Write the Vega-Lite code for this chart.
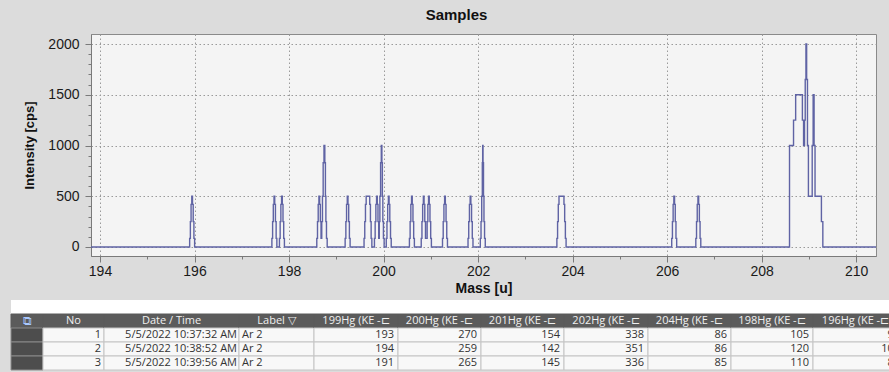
{
  "$schema": "https://vega.github.io/schema/vega-lite/v6.json",
  "background": "#dcdcdc",
  "padding": {"left": 10, "top": 7, "right": 0, "bottom": 2},
  "spacing": 4,
  "config": {
    "view": {"stroke": null, "fill": "#ffffff"},
    "font": "Liberation Sans"
  },
  "datasets": {
    "spectrum": [
      {"mass": 193.81, "cps": 0},
      {"mass": 195.89, "cps": 0}, {"mass": 195.905, "cps": 85}, {"mass": 195.92, "cps": 250}, {"mass": 195.935, "cps": 420}, {"mass": 195.95, "cps": 500}, {"mass": 195.965, "cps": 420}, {"mass": 195.98, "cps": 250}, {"mass": 195.995, "cps": 85}, {"mass": 196.01, "cps": 0},
      {"mass": 197.63, "cps": 0}, {"mass": 197.645, "cps": 85}, {"mass": 197.66, "cps": 250}, {"mass": 197.675, "cps": 420}, {"mass": 197.69, "cps": 500}, {"mass": 197.705, "cps": 420}, {"mass": 197.72, "cps": 250}, {"mass": 197.735, "cps": 85}, {"mass": 197.75, "cps": 0},
      {"mass": 197.79, "cps": 0}, {"mass": 197.805, "cps": 85}, {"mass": 197.82, "cps": 250}, {"mass": 197.835, "cps": 420}, {"mass": 197.85, "cps": 500}, {"mass": 197.865, "cps": 420}, {"mass": 197.88, "cps": 250}, {"mass": 197.895, "cps": 85}, {"mass": 197.91, "cps": 0},
      {"mass": 198.58, "cps": 0}, {"mass": 198.595, "cps": 85}, {"mass": 198.61, "cps": 250}, {"mass": 198.625, "cps": 420}, {"mass": 198.64, "cps": 500}, {"mass": 198.655, "cps": 420}, {"mass": 198.67, "cps": 250}, {"mass": 198.685, "cps": 85}, {"mass": 198.7, "cps": 250}, {"mass": 198.715, "cps": 500}, {"mass": 198.73, "cps": 830}, {"mass": 198.75, "cps": 1000}, {"mass": 198.765, "cps": 830}, {"mass": 198.775, "cps": 500}, {"mass": 198.785, "cps": 250}, {"mass": 198.8, "cps": 85}, {"mass": 198.815, "cps": 0},
      {"mass": 199.18, "cps": 0}, {"mass": 199.195, "cps": 85}, {"mass": 199.21, "cps": 250}, {"mass": 199.225, "cps": 420}, {"mass": 199.24, "cps": 500}, {"mass": 199.255, "cps": 420}, {"mass": 199.27, "cps": 250}, {"mass": 199.285, "cps": 85}, {"mass": 199.3, "cps": 0},
      {"mass": 199.58, "cps": 0}, {"mass": 199.595, "cps": 85}, {"mass": 199.61, "cps": 250}, {"mass": 199.625, "cps": 420}, {"mass": 199.64, "cps": 500}, {"mass": 199.67, "cps": 500}, {"mass": 199.7, "cps": 500}, {"mass": 199.715, "cps": 420}, {"mass": 199.73, "cps": 250}, {"mass": 199.745, "cps": 85}, {"mass": 199.76, "cps": 0},
      {"mass": 199.8, "cps": 0}, {"mass": 199.815, "cps": 85}, {"mass": 199.83, "cps": 250}, {"mass": 199.845, "cps": 420}, {"mass": 199.86, "cps": 500}, {"mass": 199.875, "cps": 420}, {"mass": 199.89, "cps": 250}, {"mass": 199.905, "cps": 85}, {"mass": 199.915, "cps": 250}, {"mass": 199.93, "cps": 500}, {"mass": 199.945, "cps": 830}, {"mass": 199.96, "cps": 1000}, {"mass": 199.97, "cps": 830}, {"mass": 199.98, "cps": 500}, {"mass": 199.99, "cps": 250}, {"mass": 200.005, "cps": 85}, {"mass": 200.02, "cps": 0},
      {"mass": 200.05, "cps": 0}, {"mass": 200.065, "cps": 85}, {"mass": 200.08, "cps": 250}, {"mass": 200.095, "cps": 420}, {"mass": 200.11, "cps": 500}, {"mass": 200.125, "cps": 420}, {"mass": 200.14, "cps": 250}, {"mass": 200.155, "cps": 85}, {"mass": 200.17, "cps": 0},
      {"mass": 200.54, "cps": 0}, {"mass": 200.555, "cps": 85}, {"mass": 200.57, "cps": 250}, {"mass": 200.585, "cps": 420}, {"mass": 200.6, "cps": 500}, {"mass": 200.615, "cps": 420}, {"mass": 200.63, "cps": 250}, {"mass": 200.645, "cps": 85}, {"mass": 200.66, "cps": 0},
      {"mass": 200.79, "cps": 0}, {"mass": 200.805, "cps": 85}, {"mass": 200.82, "cps": 250}, {"mass": 200.835, "cps": 420}, {"mass": 200.85, "cps": 500}, {"mass": 200.865, "cps": 420}, {"mass": 200.88, "cps": 250}, {"mass": 200.895, "cps": 85}, {"mass": 200.915, "cps": 85}, {"mass": 200.93, "cps": 250}, {"mass": 200.945, "cps": 420}, {"mass": 200.96, "cps": 500}, {"mass": 200.975, "cps": 420}, {"mass": 200.99, "cps": 250}, {"mass": 201.005, "cps": 85}, {"mass": 201.02, "cps": 0},
      {"mass": 201.24, "cps": 0}, {"mass": 201.255, "cps": 85}, {"mass": 201.27, "cps": 250}, {"mass": 201.285, "cps": 420}, {"mass": 201.3, "cps": 500}, {"mass": 201.315, "cps": 420}, {"mass": 201.33, "cps": 250}, {"mass": 201.345, "cps": 85}, {"mass": 201.36, "cps": 0},
      {"mass": 201.78, "cps": 0}, {"mass": 201.795, "cps": 85}, {"mass": 201.81, "cps": 250}, {"mass": 201.825, "cps": 420}, {"mass": 201.84, "cps": 500}, {"mass": 201.855, "cps": 420}, {"mass": 201.87, "cps": 250}, {"mass": 201.885, "cps": 85}, {"mass": 201.9, "cps": 0},
      {"mass": 202.04, "cps": 0}, {"mass": 202.055, "cps": 85}, {"mass": 202.07, "cps": 250}, {"mass": 202.085, "cps": 500}, {"mass": 202.095, "cps": 830}, {"mass": 202.1, "cps": 1000}, {"mass": 202.11, "cps": 830}, {"mass": 202.12, "cps": 500}, {"mass": 202.13, "cps": 250}, {"mass": 202.145, "cps": 85}, {"mass": 202.16, "cps": 0},
      {"mass": 203.66, "cps": 0}, {"mass": 203.675, "cps": 85}, {"mass": 203.69, "cps": 250}, {"mass": 203.705, "cps": 420}, {"mass": 203.72, "cps": 500}, {"mass": 203.765, "cps": 500}, {"mass": 203.81, "cps": 500}, {"mass": 203.825, "cps": 420}, {"mass": 203.84, "cps": 250}, {"mass": 203.855, "cps": 85}, {"mass": 203.87, "cps": 0},
      {"mass": 206.09, "cps": 0}, {"mass": 206.105, "cps": 85}, {"mass": 206.12, "cps": 250}, {"mass": 206.135, "cps": 420}, {"mass": 206.15, "cps": 500}, {"mass": 206.165, "cps": 420}, {"mass": 206.18, "cps": 250}, {"mass": 206.195, "cps": 85}, {"mass": 206.21, "cps": 0},
      {"mass": 206.6, "cps": 0}, {"mass": 206.615, "cps": 85}, {"mass": 206.63, "cps": 250}, {"mass": 206.645, "cps": 420}, {"mass": 206.66, "cps": 500}, {"mass": 206.675, "cps": 420}, {"mass": 206.69, "cps": 250}, {"mass": 206.705, "cps": 85}, {"mass": 206.72, "cps": 0},
      {"mass": 208.58, "cps": 0}, {"mass": 208.6, "cps": 1000}, {"mass": 208.65, "cps": 1000}, {"mass": 208.7, "cps": 1250}, {"mass": 208.74, "cps": 1500}, {"mass": 208.8, "cps": 1500}, {"mass": 208.85, "cps": 1500}, {"mass": 208.875, "cps": 1250}, {"mass": 208.9, "cps": 1000}, {"mass": 208.915, "cps": 1250}, {"mass": 208.93, "cps": 1650}, {"mass": 208.945, "cps": 2000}, {"mass": 208.96, "cps": 1650}, {"mass": 208.98, "cps": 1000}, {"mass": 209.0, "cps": 500}, {"mass": 209.03, "cps": 500}, {"mass": 209.06, "cps": 500}, {"mass": 209.08, "cps": 1000}, {"mass": 209.1, "cps": 1500}, {"mass": 209.12, "cps": 1000}, {"mass": 209.14, "cps": 500}, {"mass": 209.2, "cps": 500}, {"mass": 209.25, "cps": 500}, {"mass": 209.28, "cps": 250}, {"mass": 209.31, "cps": 0},
      {"mass": 210.42, "cps": 0}
    ],
    "cells": [
      {"col": "icon", "row": "hdr", "text": "⧉"}, {"col": "icon", "row": "1", "text": ""}, {"col": "icon", "row": "2", "text": ""}, {"col": "icon", "row": "3", "text": ""},
      {"col": "No", "row": "hdr", "text": "No"}, {"col": "No", "row": "1", "text": "1"}, {"col": "No", "row": "2", "text": "2"}, {"col": "No", "row": "3", "text": "3"},
      {"col": "Date / Time", "row": "hdr", "text": "Date / Time"}, {"col": "Date / Time", "row": "1", "text": "5/5/2022  10:37:32 AM"}, {"col": "Date / Time", "row": "2", "text": "5/5/2022  10:38:52 AM"}, {"col": "Date / Time", "row": "3", "text": "5/5/2022  10:39:56 AM"},
      {"col": "Label", "row": "hdr", "text": "Label      ▽"}, {"col": "Label", "row": "1", "text": "Ar 2"}, {"col": "Label", "row": "2", "text": "Ar 2"}, {"col": "Label", "row": "3", "text": "Ar 2"},
      {"col": "199Hg", "row": "hdr", "text": "199Hg (KE  -⊏"}, {"col": "199Hg", "row": "1", "text": "193"}, {"col": "199Hg", "row": "2", "text": "194"}, {"col": "199Hg", "row": "3", "text": "191"},
      {"col": "200Hg", "row": "hdr", "text": "200Hg (KE  -⊏"}, {"col": "200Hg", "row": "1", "text": "270"}, {"col": "200Hg", "row": "2", "text": "259"}, {"col": "200Hg", "row": "3", "text": "265"},
      {"col": "201Hg", "row": "hdr", "text": "201Hg (KE  -⊏"}, {"col": "201Hg", "row": "1", "text": "154"}, {"col": "201Hg", "row": "2", "text": "142"}, {"col": "201Hg", "row": "3", "text": "145"},
      {"col": "202Hg", "row": "hdr", "text": "202Hg (KE  -⊏"}, {"col": "202Hg", "row": "1", "text": "338"}, {"col": "202Hg", "row": "2", "text": "351"}, {"col": "202Hg", "row": "3", "text": "336"},
      {"col": "204Hg", "row": "hdr", "text": "204Hg (KE  -⊏"}, {"col": "204Hg", "row": "1", "text": "86"}, {"col": "204Hg", "row": "2", "text": "86"}, {"col": "204Hg", "row": "3", "text": "85"},
      {"col": "198Hg", "row": "hdr", "text": "198Hg (KE  -⊏"}, {"col": "198Hg", "row": "1", "text": "105"}, {"col": "198Hg", "row": "2", "text": "120"}, {"col": "198Hg", "row": "3", "text": "110"},
      {"col": "196Hg", "row": "hdr", "text": "196Hg (KE  -⊏"}, {"col": "196Hg", "row": "1", "text": "97"}, {"col": "196Hg", "row": "2", "text": "103"}, {"col": "196Hg", "row": "3", "text": "88"}
    ]
  },
  "vconcat": [
    {
      "bounds": "flush",
      "spacing": 0,
      "hconcat": [
        {
          "width": 80,
          "height": 222,
          "view": {"fill": null, "stroke": null},
          "data": {"values": [{}]},
          "mark": {"type": "text"},
          "encoding": {"text": {"value": ""}}
        },
        {
          "width": 785,
          "height": 222,
          "title": {"text": "Samples", "fontSize": 15, "fontWeight": "bold", "color": "#111111", "anchor": "middle", "frame": "group", "dx": -27, "offset": 11},
          "view": {"fill": "#f4f4f4", "stroke": "#8a8a8a"},
          "data": {"name": "spectrum"},
          "mark": {"type": "line", "interpolate": "step", "color": "#5f63a4", "strokeWidth": 1.4, "clip": true},
          "encoding": {
            "x": {
              "field": "mass", "type": "quantitative",
              "scale": {"domain": [193.81, 210.42], "nice": false, "zero": false},
              "axis": {
                "title": "Mass [u]", "titleFontSize": 14, "titleFontWeight": "bold", "titleColor": "#111111", "titlePadding": 3,
                "values": [194, 194.5, 195, 195.5, 196, 196.5, 197, 197.5, 198, 198.5, 199, 199.5, 200, 200.5, 201, 201.5, 202, 202.5, 203, 203.5, 204, 204.5, 205, 205.5, 206, 206.5, 207, 207.5, 208, 208.5, 209, 209.5, 210],
                "format": "d",
                "labelExpr": "datum.value % 2 === 0 ? datum.label : ''",
                "labelFontSize": 14, "labelColor": "#1a1a1a", "labelPadding": 2, "labelFlush": false, "labelOverlap": false,
                "domainColor": "#7a7a7a", "tickColor": "#7a7a7a",
                "tickSize": {"condition": {"test": "datum.value % 2 === 0", "value": 6}, "value": 3},
                "grid": true, "gridColor": "#9a9a9a", "gridDash": [1.5, 2.5],
                "gridOpacity": {"condition": {"test": "datum.value % 2 === 0", "value": 1}, "value": 0}
              }
            },
            "y": {
              "field": "cps", "type": "quantitative",
              "scale": {"domain": [-89, 2099], "nice": false, "zero": false},
              "axis": {
                "title": ["", "Intensity [cps]"], "titleFontSize": 13, "titleFontWeight": "bold", "titleColor": "#111111", "titleLineHeight": 12, "titlePadding": 10,
                "minExtent": 45, "maxExtent": 45,
                "values": [0, 100, 200, 300, 400, 500, 600, 700, 800, 900, 1000, 1100, 1200, 1300, 1400, 1500, 1600, 1700, 1800, 1900, 2000],
                "format": "d",
                "labelExpr": "datum.value % 500 === 0 ? datum.label : ''",
                "labelFontSize": 14, "labelColor": "#1a1a1a", "labelPadding": 6, "labelOverlap": false,
                "domainColor": "#7a7a7a", "tickColor": "#7a7a7a",
                "tickSize": {"condition": {"test": "datum.value % 500 === 0", "value": 6}, "value": 3},
                "grid": true, "gridColor": "#9a9a9a", "gridDash": [1.5, 2.5],
                "gridOpacity": {"condition": {"test": "datum.value % 500 === 0", "value": 1}, "value": 0}
              }
            }
          }
        }
      ]
    },
    {
      "data": {"name": "cells"},
      "spacing": 0,
      "bounds": "flush",
      "hconcat": [
        {
          "width": 32, "height": 70,
          "transform": [{"filter": "datum.col === 'icon'"}],
          "encoding": {
            "x": {"field": "col", "type": "nominal", "scale": {"type": "band", "paddingInner": 0, "paddingOuter": 0}, "axis": null},
            "y": {"field": "row", "type": "nominal", "scale": {"type": "band", "domain": ["gap", "hdr", "1", "2", "3"], "paddingInner": 0, "paddingOuter": 0}, "axis": null}
          },
          "layer": [
            {"mark": {"type": "rect", "strokeWidth": 1}, "encoding": {"fill": {"condition": {"test": "datum.row === 'hdr'", "value": "#5b5b5b"}, "value": "#4d4d4d"}, "stroke": {"condition": {"test": "datum.row === 'hdr'", "value": "#5b5b5b"}, "value": "#8a8a8a"}}},
            {"transform": [{"filter": "datum.row === 'hdr'"}], "mark": {"type": "text", "font": "DejaVu Sans", "fontSize": 12, "color": "#a8c8ff"}, "encoding": {"text": {"field": "text"}}}
          ]
        },
        {
          "width": 61, "height": 70,
          "transform": [{"filter": "datum.col === 'No'"}],
          "encoding": {
            "x": {"field": "col", "type": "nominal", "scale": {"type": "band", "paddingInner": 0, "paddingOuter": 0}, "axis": null},
            "y": {"field": "row", "type": "nominal", "scale": {"type": "band", "domain": ["gap", "hdr", "1", "2", "3"], "paddingInner": 0, "paddingOuter": 0}, "axis": null}
          },
          "layer": [
            {"mark": {"type": "rect", "strokeWidth": 1}, "encoding": {"fill": {"condition": {"test": "datum.row === 'hdr'", "value": "#5b5b5b"}, "value": "#f8f8f8"}, "stroke": {"condition": {"test": "datum.row === 'hdr'", "value": "#5b5b5b"}, "value": "#c4c4c4"}}},
            {"transform": [{"filter": "datum.row === 'hdr'"}], "mark": {"type": "text", "font": "Open Sans", "fontSize": 11, "color": "#f0f0f0"}, "encoding": {"text": {"field": "text"}}},
            {"transform": [{"filter": "datum.row !== 'hdr'"}], "mark": {"type": "text", "font": "Open Sans", "fontSize": 11, "color": "#333333", "align": "right", "dx": -3}, "encoding": {"x": {"field": "col", "type": "nominal", "bandPosition": 1, "scale": {"type": "band", "paddingInner": 0, "paddingOuter": 0}, "axis": null}, "text": {"field": "text"}}}
          ]
        },
        {
          "width": 135, "height": 70,
          "transform": [{"filter": "datum.col === 'Date / Time'"}],
          "encoding": {
            "x": {"field": "col", "type": "nominal", "scale": {"type": "band", "paddingInner": 0, "paddingOuter": 0}, "axis": null},
            "y": {"field": "row", "type": "nominal", "scale": {"type": "band", "domain": ["gap", "hdr", "1", "2", "3"], "paddingInner": 0, "paddingOuter": 0}, "axis": null}
          },
          "layer": [
            {"mark": {"type": "rect", "strokeWidth": 1}, "encoding": {"fill": {"condition": {"test": "datum.row === 'hdr'", "value": "#5b5b5b"}, "value": "#f8f8f8"}, "stroke": {"condition": {"test": "datum.row === 'hdr'", "value": "#5b5b5b"}, "value": "#c4c4c4"}}},
            {"transform": [{"filter": "datum.row === 'hdr'"}], "mark": {"type": "text", "font": "Open Sans", "fontSize": 11, "color": "#f0f0f0"}, "encoding": {"text": {"field": "text"}}},
            {"transform": [{"filter": "datum.row !== 'hdr'"}], "mark": {"type": "text", "font": "Open Sans", "fontSize": 11, "color": "#333333", "align": "right", "dx": -2}, "encoding": {"x": {"field": "col", "type": "nominal", "bandPosition": 1, "scale": {"type": "band", "paddingInner": 0, "paddingOuter": 0}, "axis": null}, "text": {"field": "text"}}}
          ]
        },
        {
          "width": 75, "height": 70,
          "transform": [{"filter": "datum.col === 'Label'"}],
          "encoding": {
            "x": {"field": "col", "type": "nominal", "scale": {"type": "band", "paddingInner": 0, "paddingOuter": 0}, "axis": null},
            "y": {"field": "row", "type": "nominal", "scale": {"type": "band", "domain": ["gap", "hdr", "1", "2", "3"], "paddingInner": 0, "paddingOuter": 0}, "axis": null}
          },
          "layer": [
            {"mark": {"type": "rect", "strokeWidth": 1}, "encoding": {"fill": {"condition": {"test": "datum.row === 'hdr'", "value": "#5b5b5b"}, "value": "#f8f8f8"}, "stroke": {"condition": {"test": "datum.row === 'hdr'", "value": "#5b5b5b"}, "value": "#c4c4c4"}}},
            {"transform": [{"filter": "datum.row === 'hdr'"}], "mark": {"type": "text", "font": "Open Sans", "fontSize": 11, "color": "#f0f0f0"}, "encoding": {"text": {"field": "text"}}},
            {"transform": [{"filter": "datum.row !== 'hdr'"}], "mark": {"type": "text", "font": "Open Sans", "fontSize": 11, "color": "#333333", "align": "left", "dx": 3}, "encoding": {"x": {"field": "col", "type": "nominal", "bandPosition": 0, "scale": {"type": "band", "paddingInner": 0, "paddingOuter": 0}, "axis": null}, "text": {"field": "text"}}}
          ]
        },
        {
          "width": 84, "height": 70,
          "transform": [{"filter": "datum.col === '199Hg'"}],
          "encoding": {
            "x": {"field": "col", "type": "nominal", "scale": {"type": "band", "paddingInner": 0, "paddingOuter": 0}, "axis": null},
            "y": {"field": "row", "type": "nominal", "scale": {"type": "band", "domain": ["gap", "hdr", "1", "2", "3"], "paddingInner": 0, "paddingOuter": 0}, "axis": null}
          },
          "layer": [
            {"mark": {"type": "rect", "strokeWidth": 1}, "encoding": {"fill": {"condition": {"test": "datum.row === 'hdr'", "value": "#5b5b5b"}, "value": "#f8f8f8"}, "stroke": {"condition": {"test": "datum.row === 'hdr'", "value": "#5b5b5b"}, "value": "#c4c4c4"}}},
            {"transform": [{"filter": "datum.row === 'hdr'"}], "mark": {"type": "text", "font": "Open Sans", "fontSize": 11, "color": "#f0f0f0"}, "encoding": {"text": {"field": "text"}}},
            {"transform": [{"filter": "datum.row !== 'hdr'"}], "mark": {"type": "text", "font": "Open Sans", "fontSize": 11, "color": "#333333", "align": "right", "dx": -4}, "encoding": {"x": {"field": "col", "type": "nominal", "bandPosition": 1, "scale": {"type": "band", "paddingInner": 0, "paddingOuter": 0}, "axis": null}, "text": {"field": "text"}}}
          ]
        },
        {
          "width": 83, "height": 70,
          "transform": [{"filter": "datum.col === '200Hg'"}],
          "encoding": {
            "x": {"field": "col", "type": "nominal", "scale": {"type": "band", "paddingInner": 0, "paddingOuter": 0}, "axis": null},
            "y": {"field": "row", "type": "nominal", "scale": {"type": "band", "domain": ["gap", "hdr", "1", "2", "3"], "paddingInner": 0, "paddingOuter": 0}, "axis": null}
          },
          "layer": [
            {"mark": {"type": "rect", "strokeWidth": 1}, "encoding": {"fill": {"condition": {"test": "datum.row === 'hdr'", "value": "#5b5b5b"}, "value": "#f8f8f8"}, "stroke": {"condition": {"test": "datum.row === 'hdr'", "value": "#5b5b5b"}, "value": "#c4c4c4"}}},
            {"transform": [{"filter": "datum.row === 'hdr'"}], "mark": {"type": "text", "font": "Open Sans", "fontSize": 11, "color": "#f0f0f0"}, "encoding": {"text": {"field": "text"}}},
            {"transform": [{"filter": "datum.row !== 'hdr'"}], "mark": {"type": "text", "font": "Open Sans", "fontSize": 11, "color": "#333333", "align": "right", "dx": -4}, "encoding": {"x": {"field": "col", "type": "nominal", "bandPosition": 1, "scale": {"type": "band", "paddingInner": 0, "paddingOuter": 0}, "axis": null}, "text": {"field": "text"}}}
          ]
        },
        {
          "width": 83, "height": 70,
          "transform": [{"filter": "datum.col === '201Hg'"}],
          "encoding": {
            "x": {"field": "col", "type": "nominal", "scale": {"type": "band", "paddingInner": 0, "paddingOuter": 0}, "axis": null},
            "y": {"field": "row", "type": "nominal", "scale": {"type": "band", "domain": ["gap", "hdr", "1", "2", "3"], "paddingInner": 0, "paddingOuter": 0}, "axis": null}
          },
          "layer": [
            {"mark": {"type": "rect", "strokeWidth": 1}, "encoding": {"fill": {"condition": {"test": "datum.row === 'hdr'", "value": "#5b5b5b"}, "value": "#f8f8f8"}, "stroke": {"condition": {"test": "datum.row === 'hdr'", "value": "#5b5b5b"}, "value": "#c4c4c4"}}},
            {"transform": [{"filter": "datum.row === 'hdr'"}], "mark": {"type": "text", "font": "Open Sans", "fontSize": 11, "color": "#f0f0f0"}, "encoding": {"text": {"field": "text"}}},
            {"transform": [{"filter": "datum.row !== 'hdr'"}], "mark": {"type": "text", "font": "Open Sans", "fontSize": 11, "color": "#333333", "align": "right", "dx": -4}, "encoding": {"x": {"field": "col", "type": "nominal", "bandPosition": 1, "scale": {"type": "band", "paddingInner": 0, "paddingOuter": 0}, "axis": null}, "text": {"field": "text"}}}
          ]
        },
        {
          "width": 84, "height": 70,
          "transform": [{"filter": "datum.col === '202Hg'"}],
          "encoding": {
            "x": {"field": "col", "type": "nominal", "scale": {"type": "band", "paddingInner": 0, "paddingOuter": 0}, "axis": null},
            "y": {"field": "row", "type": "nominal", "scale": {"type": "band", "domain": ["gap", "hdr", "1", "2", "3"], "paddingInner": 0, "paddingOuter": 0}, "axis": null}
          },
          "layer": [
            {"mark": {"type": "rect", "strokeWidth": 1}, "encoding": {"fill": {"condition": {"test": "datum.row === 'hdr'", "value": "#5b5b5b"}, "value": "#f8f8f8"}, "stroke": {"condition": {"test": "datum.row === 'hdr'", "value": "#5b5b5b"}, "value": "#c4c4c4"}}},
            {"transform": [{"filter": "datum.row === 'hdr'"}], "mark": {"type": "text", "font": "Open Sans", "fontSize": 11, "color": "#f0f0f0"}, "encoding": {"text": {"field": "text"}}},
            {"transform": [{"filter": "datum.row !== 'hdr'"}], "mark": {"type": "text", "font": "Open Sans", "fontSize": 11, "color": "#333333", "align": "right", "dx": -4}, "encoding": {"x": {"field": "col", "type": "nominal", "bandPosition": 1, "scale": {"type": "band", "paddingInner": 0, "paddingOuter": 0}, "axis": null}, "text": {"field": "text"}}}
          ]
        },
        {
          "width": 83, "height": 70,
          "transform": [{"filter": "datum.col === '204Hg'"}],
          "encoding": {
            "x": {"field": "col", "type": "nominal", "scale": {"type": "band", "paddingInner": 0, "paddingOuter": 0}, "axis": null},
            "y": {"field": "row", "type": "nominal", "scale": {"type": "band", "domain": ["gap", "hdr", "1", "2", "3"], "paddingInner": 0, "paddingOuter": 0}, "axis": null}
          },
          "layer": [
            {"mark": {"type": "rect", "strokeWidth": 1}, "encoding": {"fill": {"condition": {"test": "datum.row === 'hdr'", "value": "#5b5b5b"}, "value": "#f8f8f8"}, "stroke": {"condition": {"test": "datum.row === 'hdr'", "value": "#5b5b5b"}, "value": "#c4c4c4"}}},
            {"transform": [{"filter": "datum.row === 'hdr'"}], "mark": {"type": "text", "font": "Open Sans", "fontSize": 11, "color": "#f0f0f0"}, "encoding": {"text": {"field": "text"}}},
            {"transform": [{"filter": "datum.row !== 'hdr'"}], "mark": {"type": "text", "font": "Open Sans", "fontSize": 11, "color": "#333333", "align": "right", "dx": -4}, "encoding": {"x": {"field": "col", "type": "nominal", "bandPosition": 1, "scale": {"type": "band", "paddingInner": 0, "paddingOuter": 0}, "axis": null}, "text": {"field": "text"}}}
          ]
        },
        {
          "width": 82, "height": 70,
          "transform": [{"filter": "datum.col === '198Hg'"}],
          "encoding": {
            "x": {"field": "col", "type": "nominal", "scale": {"type": "band", "paddingInner": 0, "paddingOuter": 0}, "axis": null},
            "y": {"field": "row", "type": "nominal", "scale": {"type": "band", "domain": ["gap", "hdr", "1", "2", "3"], "paddingInner": 0, "paddingOuter": 0}, "axis": null}
          },
          "layer": [
            {"mark": {"type": "rect", "strokeWidth": 1}, "encoding": {"fill": {"condition": {"test": "datum.row === 'hdr'", "value": "#5b5b5b"}, "value": "#f8f8f8"}, "stroke": {"condition": {"test": "datum.row === 'hdr'", "value": "#5b5b5b"}, "value": "#c4c4c4"}}},
            {"transform": [{"filter": "datum.row === 'hdr'"}], "mark": {"type": "text", "font": "Open Sans", "fontSize": 11, "color": "#f0f0f0"}, "encoding": {"text": {"field": "text"}}},
            {"transform": [{"filter": "datum.row !== 'hdr'"}], "mark": {"type": "text", "font": "Open Sans", "fontSize": 11, "color": "#333333", "align": "right", "dx": -4}, "encoding": {"x": {"field": "col", "type": "nominal", "bandPosition": 1, "scale": {"type": "band", "paddingInner": 0, "paddingOuter": 0}, "axis": null}, "text": {"field": "text"}}}
          ]
        },
        {
          "width": 77, "height": 70,
          "transform": [{"filter": "datum.col === '196Hg'"}],
          "encoding": {
            "x": {"field": "col", "type": "nominal", "scale": {"type": "band", "paddingInner": 0, "paddingOuter": 0}, "axis": null},
            "y": {"field": "row", "type": "nominal", "scale": {"type": "band", "domain": ["gap", "hdr", "1", "2", "3"], "paddingInner": 0, "paddingOuter": 0}, "axis": null}
          },
          "layer": [
            {"mark": {"type": "rect", "strokeWidth": 1}, "encoding": {"fill": {"condition": {"test": "datum.row === 'hdr'", "value": "#5b5b5b"}, "value": "#f8f8f8"}, "stroke": {"condition": {"test": "datum.row === 'hdr'", "value": "#5b5b5b"}, "value": "#c4c4c4"}}},
            {"transform": [{"filter": "datum.row === 'hdr'"}], "mark": {"type": "text", "font": "Open Sans", "fontSize": 11, "color": "#f0f0f0", "dx": 4, "clip": true}, "encoding": {"text": {"field": "text"}}},
            {"transform": [{"filter": "datum.row !== 'hdr'"}], "mark": {"type": "text", "font": "Open Sans", "fontSize": 11, "color": "#333333", "align": "right", "dx": 10, "clip": true}, "encoding": {"x": {"field": "col", "type": "nominal", "bandPosition": 1, "scale": {"type": "band", "paddingInner": 0, "paddingOuter": 0}, "axis": null}, "text": {"field": "text"}}}
          ]
        }
      ]
    }
  ]
}
